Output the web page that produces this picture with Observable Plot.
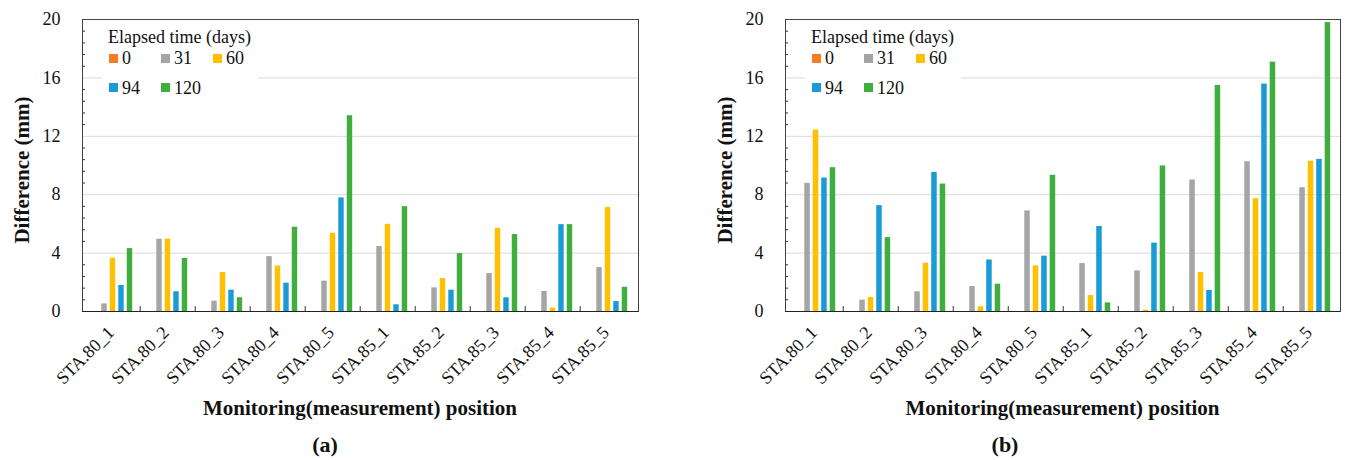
<!DOCTYPE html>
<html><head><meta charset="utf-8">
<script src="https://cdn.jsdelivr.net/npm/d3@7"></script>
<script src="https://cdn.jsdelivr.net/npm/@observablehq/plot@0.6"></script>
<style>
body{margin:0;background:#fff;color:#111;}
#wrap{position:relative;width:1346px;height:460px;overflow:hidden;}
.panel{position:absolute;top:0;width:673px;height:460px;}
.abs{position:absolute;white-space:nowrap;line-height:1;}
.legend{position:absolute;background:#fff;}
.sq{position:absolute;width:9px;height:9px;}
</style></head><body><div id="wrap"></div>
<script>
const FONT = "'Liberation Serif', serif";
const cats = ["STA.80_1","STA.80_2","STA.80_3","STA.80_4","STA.80_5","STA.85_1","STA.85_2","STA.85_3","STA.85_4","STA.85_5"];
const seriesNames = ["0","31","60","94","120"];
const seriesColors = ["#f97b22","#a5a5a5","#ffc000","#1a9bd8","#3fae3e"];
const yTicks = [0,4,8,12,16,20];
const gridTicks = [4,8,12,16];
const minorTicks = [0.8,1.6,2.4,3.2,4.8,5.6,6.4,7.2,8.8,9.6,10.4,11.2,12.8,13.6,14.4,15.2,16.8,17.6,18.4,19.2];

// chart (a)
const a0   = [0,0,0,0,0,0,0,0,0,0];
const a31  = [0.52,4.95,0.71,3.76,2.08,4.45,1.62,2.60,1.37,3.01];
const a60  = [3.65,4.95,2.67,3.12,5.36,5.97,2.26,5.70,0.23,7.12];
const a94  = [1.78,1.35,1.46,1.94,7.78,0.46,1.46,0.94,5.95,0.68];
const a120 = [4.31,3.63,0.94,5.77,13.41,7.18,3.97,5.27,5.95,1.66];
// chart (b)
const b0   = [0,0,0,0,0,0,0,0,0,0];
const b31  = [8.78,0.78,1.35,1.71,6.89,3.28,2.78,9.01,10.26,8.48];
const b60  = [12.43,0.96,3.31,0.32,3.12,1.09,0.09,2.67,7.73,10.29];
const b94  = [9.14,7.25,9.53,3.53,3.79,5.82,4.68,1.44,15.58,10.42];
const b120 = [9.85,5.06,8.73,1.87,9.33,0.59,9.97,15.48,17.08,19.79];

const legendTitle = "Elapsed time (days)";
const yLabel = "Difference (mm)";
const xLabel = "Monitoring(measurement) position";

const panels = [
  {caption: "(a)", series: [a0,a31,a60,a94,a120], left: 0, marginLeft: 82, marginRight: 35, capX: 325},
  {caption: "(b)", series: [b0,b31,b60,b94,b120], left: 673, marginLeft: 112, marginRight: 6, capX: 332}
];

const W = 673, H = 392, marginTop = 19, marginBottom = 81;
const padInner = 0.29, padOuter = 0.92;

const wrap = document.getElementById("wrap");

function addText(parent, txt, size, bold, left, top, transform) {
  const d = document.createElement("div");
  d.className = "abs";
  d.textContent = txt;
  d.style.fontFamily = FONT;
  d.style.fontSize = size + "px";
  if (bold) d.style.fontWeight = "bold";
  d.style.left = left + "px";
  d.style.top = top + "px";
  if (transform) d.style.transform = transform;
  parent.appendChild(d);
  return d;
}

for (const p of panels) {
  const div = document.createElement("div");
  div.className = "panel";
  div.style.left = p.left + "px";
  wrap.appendChild(div);

  const plotW = W - p.marginLeft - p.marginRight;
  const bandW = plotW / cats.length;
  const step = bandW / (seriesNames.length - padInner + 2 * padOuter);
  const bw = step * (1 - padInner);

  const barMarks = p.series.map((vals, k) => {
    const data = cats.map((c, i) => ({cat: c, v: vals[i]}));
    const il = padOuter * step + k * step;
    return Plot.barY(data, {
      x: "cat", y: "v", fill: seriesColors[k],
      insetLeft: il, insetRight: bandW - il - bw
    });
  });

  const svg = Plot.plot({
    width: W, height: H,
    marginLeft: p.marginLeft, marginRight: p.marginRight, marginTop, marginBottom,
    style: {fontFamily: FONT, color: "#111", background: "white", overflow: "visible"},
    x: {domain: cats, padding: 0},
    y: {domain: [0, 20]},
    marks: [
      Plot.ruleY(gridTicks, {stroke: "#d9d9d9", strokeWidth: 1}),
      ...barMarks,
      Plot.ruleX(cats.slice(1), {x: d => d, dx: -bandW / 2, y1: 0, y2: 0.34, stroke: "#333"}),
      Plot.frame({stroke: "#444"}),
      Plot.ruleY([0], {stroke: "#222"}),
      Plot.axisY(minorTicks, {tickSize: -3, text: null, label: null, stroke: "#333"}),
      Plot.axisY(yTicks, {tickSize: 0, tickPadding: 22, fontSize: 18, fontFamily: FONT, label: null}),
      Plot.axisX({tickSize: 0, tickRotate: -45, tickPadding: 18, dx: -2, fontSize: 18, fontFamily: FONT, label: null})
    ]
  });
  svg.style.position = "absolute";
  svg.style.left = "0px";
  svg.style.top = "0px";
  div.appendChild(svg);

  const plotCenter = p.marginLeft + plotW / 2;

  addText(div, yLabel, 21, true, p.marginLeft - 60, 170, "translate(-50%,-50%) rotate(-90deg)");
  addText(div, xLabel, 21, true, plotCenter, 408, "translate(-50%,-50%)");
  addText(div, p.caption, 22, true, p.capX, 445, "translate(-50%,-50%)");

  // legend
  const lg = document.createElement("div");
  lg.className = "legend";
  lg.style.left = (p.marginLeft + 20) + "px";
  lg.style.top = "22px";
  lg.style.width = "156px";
  lg.style.height = "78px";
  div.appendChild(lg);
  addText(lg, legendTitle, 18, false, 6, 6);
  const cols = [7, 59, 111];
  seriesNames.forEach((s, k) => {
    const row = k < 3 ? 0 : 1;
    const col = k < 3 ? k : k - 3;
    const sq = document.createElement("div");
    sq.className = "sq";
    sq.style.background = seriesColors[k];
    sq.style.left = cols[col] + "px";
    sq.style.top = (row === 0 ? 31.5 : 60.5) + "px";
    lg.appendChild(sq);
    addText(lg, s, 18, false, cols[col] + 13, row === 0 ? 27 : 57);
  });
}
</script></body></html>
